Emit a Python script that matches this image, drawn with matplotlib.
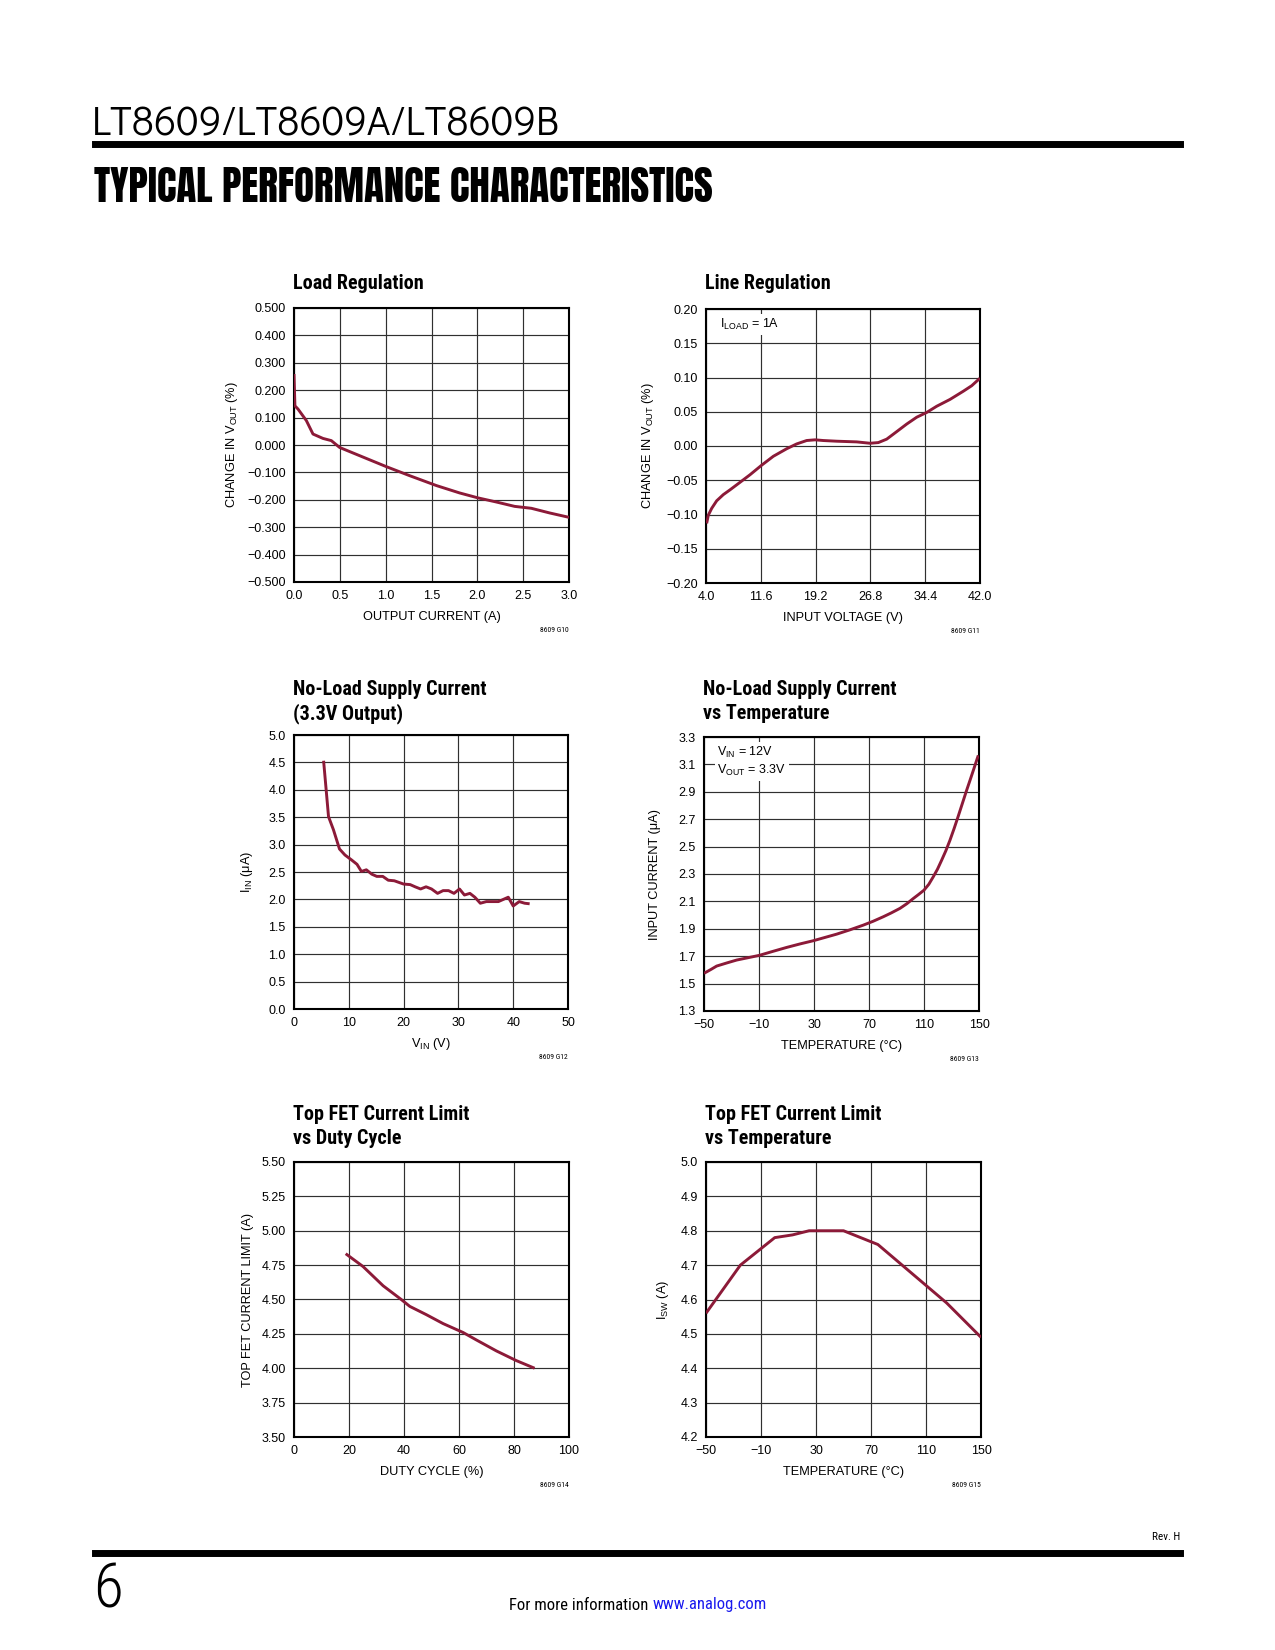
import matplotlib.pyplot as plt
import numpy as np

plt.rcParams['font.family'] = ['Liberation Sans', 'DejaVu Sans']
plt.rcParams['mathtext.fontset'] = 'custom'
plt.rcParams['mathtext.rm'] = 'Liberation Sans'
plt.rcParams['mathtext.it'] = 'Liberation Sans:italic'
plt.rcParams['mathtext.bf'] = 'Liberation Sans:bold'

W, H = 1275, 1650
RED = '#8c1a38'
NARROW = ['Roboto Condensed', 'Archivo Narrow', 'Liberation Sans', 'DejaVu Sans']

# ---- data ----
load_i = [0.0, 0.01, 0.044, 0.135, 0.207, 0.316, 0.407, 0.498, 0.716, 1.007,
          1.262, 1.553, 1.807, 2.007, 2.207, 2.407, 2.589, 2.789, 3.0]
load_dv = [0.259, 0.143, 0.131, 0.089, 0.040, 0.024, 0.016, -0.009, -0.039, -0.079,
           -0.112, -0.148, -0.175, -0.193, -0.208, -0.224, -0.231, -0.248, -0.264]

line_vin = [4.09, 4.32, 4.79, 5.48, 6.40, 7.33, 8.72, 10.10, 11.72, 13.34, 15.19,
            16.57, 17.96, 19.12, 20.27, 22.12, 24.90, 26.75, 27.90, 29.06, 30.45,
            31.83, 33.22, 34.61, 35.99, 37.84, 39.69, 40.85, 42.0]
line_dv = [-0.113, -0.101, -0.091, -0.080, -0.071, -0.064, -0.053, -0.042, -0.028,
           -0.015, -0.004, 0.003, 0.008, 0.009, 0.008, 0.007, 0.006, 0.004, 0.005,
           0.010, 0.021, 0.032, 0.042, 0.049, 0.058, 0.068, 0.080, 0.088, 0.099]

nl_vin = [5.4, 6.3, 7.2, 8.3, 9.3, 10.5, 11.5, 12.3, 13.2, 14.2, 15.1, 16.2, 17.2,
          18.3, 20.0, 21.2, 22.1, 23.1, 24.1, 25.1, 26.2, 27.2, 28.2, 29.2, 30.2,
          31.1, 32.1, 33.0, 34.0, 35.1, 36.2, 37.3, 38.2, 39.1, 40.0, 41.1, 42.1, 43.0]
nl_iin = [4.53, 3.51, 3.27, 2.92, 2.81, 2.72, 2.64, 2.51, 2.54, 2.46, 2.42, 2.42, 2.35,
          2.34, 2.28, 2.27, 2.23, 2.19, 2.23, 2.19, 2.11, 2.16, 2.16, 2.11, 2.19,
          2.08, 2.11, 2.04, 1.93, 1.96, 1.96, 1.96, 2.00, 2.04, 1.88, 1.96, 1.93, 1.92]

nlt_temp = [-50, -45, -40.8, -33, -26.2, -18, -9.8, 0, 10.1, 20, 29.5, 38, 46.5, 56,
            65.9, 73, 80.4, 86, 92.5, 97.5, 102.2, 106, 110.0, 113.5, 116.7, 119.8,
            122.8, 125.9, 128.9, 131.9, 134.9, 138, 141.0, 143.5, 145.9, 147.8, 149.5]
nlt_iin = [1.575, 1.603, 1.628, 1.652, 1.672, 1.689, 1.706, 1.735, 1.764, 1.790, 1.813,
           1.837, 1.861, 1.892, 1.927, 1.955, 1.988, 2.015, 2.049, 2.083, 2.121, 2.150,
           2.182, 2.225, 2.279, 2.335, 2.40, 2.470, 2.547, 2.632, 2.722, 2.818, 2.911,
           2.985, 3.057, 3.115, 3.166]

duty = [18.8, 25.1, 32.4, 39.0, 42.1, 48.1, 54.2, 61.5, 66.3, 73.6, 80.8, 87.5]
ilim_duty = [4.833, 4.74, 4.60, 4.50, 4.45, 4.39, 4.325, 4.26, 4.206, 4.126, 4.056, 4.0]

fet_temp = [-50, -25, 0, 13, 25, 50, 75, 100, 125, 150]
ilim_temp = [4.56, 4.70, 4.78, 4.788, 4.80, 4.80, 4.76, 4.675, 4.59, 4.49]

fig = plt.figure(figsize=(12.75, 16.5), dpi=100)


def fx(px):
    return px / W


def fy(py):
    return 1 - py / H


def make_chart(box, title, xdata, ydata, xlim, xticks, xlabels, ylim, yticks, ylabels,
               xlabel, ylabel, ylab_dist, code, title_base):
    l, t, r, b = box
    ax = fig.add_axes([fx(l), fy(b), (r - l) / W, (b - t) / H])
    ax.plot(xdata, ydata, color=RED, lw=2.1, solid_capstyle='butt',
            solid_joinstyle='round', zorder=3)
    ax.set_xlim(xlim)
    ax.set_ylim(ylim)
    ax.set_xticks(xticks)
    ax.set_xticklabels(xlabels)
    ax.set_yticks(yticks)
    ax.set_yticklabels(ylabels)
    ax.tick_params(length=0, labelsize=9, pad=6)
    ax.grid(True, color='#303030', lw=0.85)
    for s in ax.spines.values():
        s.set_linewidth(1.5)
    ax.set_xlabel(xlabel, fontsize=9.2, va='center')
    ax.xaxis.set_label_coords(0.5, -35 / (b - t))
    ax.set_ylabel(ylabel, fontsize=9.2, va='center', ha='center')
    ax.yaxis.set_label_coords(-ylab_dist / (r - l), 0.5)
    for k, line in enumerate(title):
        fig.text(fx(l - 1), fy(title_base + 24 * k), line, family=NARROW, weight='bold',
                 fontsize=14.5, va='baseline', ha='left')
    fig.text(fx(r), fy(b + 48), code, fontsize=5.5, ha='right', va='center',
             family=NARROW)
    return ax


ax1 = make_chart((294, 308, 569, 582), ['Load Regulation'], load_i, load_dv,
                 (0, 3), [0, 0.5, 1, 1.5, 2, 2.5, 3],
                 ['0.0', '0.5', '1.0', '1.5', '2.0', '2.5', '3.0'],
                 (-0.5, 0.5), np.linspace(-0.5, 0.5, 11),
                 ['\u22120.500', '\u22120.400', '\u22120.300', '\u22120.200', '\u22120.100',
                  '0.000', '0.100', '0.200', '0.300', '0.400', '0.500'],
                 'OUTPUT CURRENT (A)', r'CHANGE IN V$_{\rm OUT}$ (%)', 62, '8609 G10', 289)

ax2 = make_chart((706, 309, 980, 583), ['Line Regulation'], line_vin, line_dv,
                 (4, 42), [4, 11.6, 19.2, 26.8, 34.4, 42],
                 ['4.0', '11.6', '19.2', '26.8', '34.4', '42.0'],
                 (-0.2, 0.2), np.linspace(-0.2, 0.2, 9),
                 ['\u22120.20', '\u22120.15', '\u22120.10', '\u22120.05', '0.00',
                  '0.05', '0.10', '0.15', '0.20'],
                 'INPUT VOLTAGE (V)', r'CHANGE IN V$_{\rm OUT}$ (%)', 58, '8609 G11', 289)
ax2.text(5.9, 0.177, r'I$_{\rm LOAD}$ = 1A', fontsize=9, va='center', ha='left',
         bbox=dict(facecolor='white', edgecolor='none', pad=2), zorder=4)

ax3 = make_chart((294, 735, 568, 1009), ['No-Load Supply Current', '(3.3V Output)'],
                 nl_vin, nl_iin, (0, 50), [0, 10, 20, 30, 40, 50],
                 ['0', '10', '20', '30', '40', '50'],
                 (0, 5), np.linspace(0, 5, 11),
                 ['0.0', '0.5', '1.0', '1.5', '2.0', '2.5', '3.0', '3.5', '4.0', '4.5', '5.0'],
                 r'V$_{\rm IN}$ (V)', 'I$_{\\rm IN}$ (\u03bcA)', 47, '8609 G12', 695)

ax4 = make_chart((704, 737, 979, 1011), ['No-Load Supply Current', 'vs Temperature'],
                 nlt_temp, nlt_iin, (-50, 150), [-50, -10, 30, 70, 110, 150],
                 ['\u221250', '\u221210', '30', '70', '110', '150'],
                 (1.3, 3.3), np.linspace(1.3, 3.3, 11),
                 ['1.3', '1.5', '1.7', '1.9', '2.1', '2.3', '2.5', '2.7', '2.9', '3.1', '3.3'],
                 'TEMPERATURE (\u00b0C)', 'INPUT CURRENT (\u03bcA)', 49, '8609 G13', 695)
ax4.text(-40.3, 3.12, 'V$_{\\rm IN}$ = 12V\nV$_{\\rm OUT}$ = 3.3V', fontsize=9,
         va='center', ha='left', linespacing=1.3,
         bbox=dict(facecolor='white', edgecolor='none', pad=2), zorder=4)

ax5 = make_chart((294, 1162, 569, 1437), ['Top FET Current Limit', 'vs Duty Cycle'],
                 duty, ilim_duty, (0, 100), [0, 20, 40, 60, 80, 100],
                 ['0', '20', '40', '60', '80', '100'],
                 (3.5, 5.5), np.linspace(3.5, 5.5, 9),
                 ['3.50', '3.75', '4.00', '4.25', '4.50', '4.75', '5.00', '5.25', '5.50'],
                 'DUTY CYCLE (%)', 'TOP FET CURRENT LIMIT (A)', 46, '8609 G14', 1120)

ax6 = make_chart((706, 1162, 981, 1437), ['Top FET Current Limit', 'vs Temperature'],
                 fet_temp, ilim_temp, (-50, 150), [-50, -10, 30, 70, 110, 150],
                 ['\u221250', '\u221210', '30', '70', '110', '150'],
                 (4.2, 5.0), np.linspace(4.2, 5.0, 9),
                 ['4.2', '4.3', '4.4', '4.5', '4.6', '4.7', '4.8', '4.9', '5.0'],
                 'TEMPERATURE (\u00b0C)', r'I$_{\rm SW}$ (A)', 43, '8609 G15', 1120)

# ---- page header / footer ----
fig.text(fx(92), fy(135), 'LT8609/LT8609A/LT8609B',
         family=['Didact Gothic', 'Lato', 'DejaVu Sans'],
         fontsize=29, va='baseline', ha='left')
fig.add_artist(plt.Line2D([fx(95), fx(1180)], [fy(144), fy(144)], color='black', lw=5))
fig.text(fx(94), fy(202), 'TYPICAL PERFORMANCE CHARACTERISTICS',
         family=['Anton', 'Liberation Sans', 'DejaVu Sans'],
         fontsize=29.5, va='baseline', ha='left')

fig.text(fx(1180), fy(1537), 'Rev. H', family=NARROW, fontsize=8, ha='right', va='center')
fig.add_artist(plt.Line2D([fx(95), fx(1180)], [fy(1553), fy(1553)], color='black', lw=5))
fig.text(fx(93), fy(1608), '6', family=NARROW, weight='light', fontsize=44,
         ha='left', va='baseline')
fig.text(fx(648), fy(1605), 'For more information', family=NARROW, fontsize=12,
         ha='right', va='center')
fig.text(fx(653), fy(1605), 'www.analog.com', family=NARROW, fontsize=12,
         ha='left', va='center', color='#1a1aee')

fig.savefig('out.png', dpi=100)
